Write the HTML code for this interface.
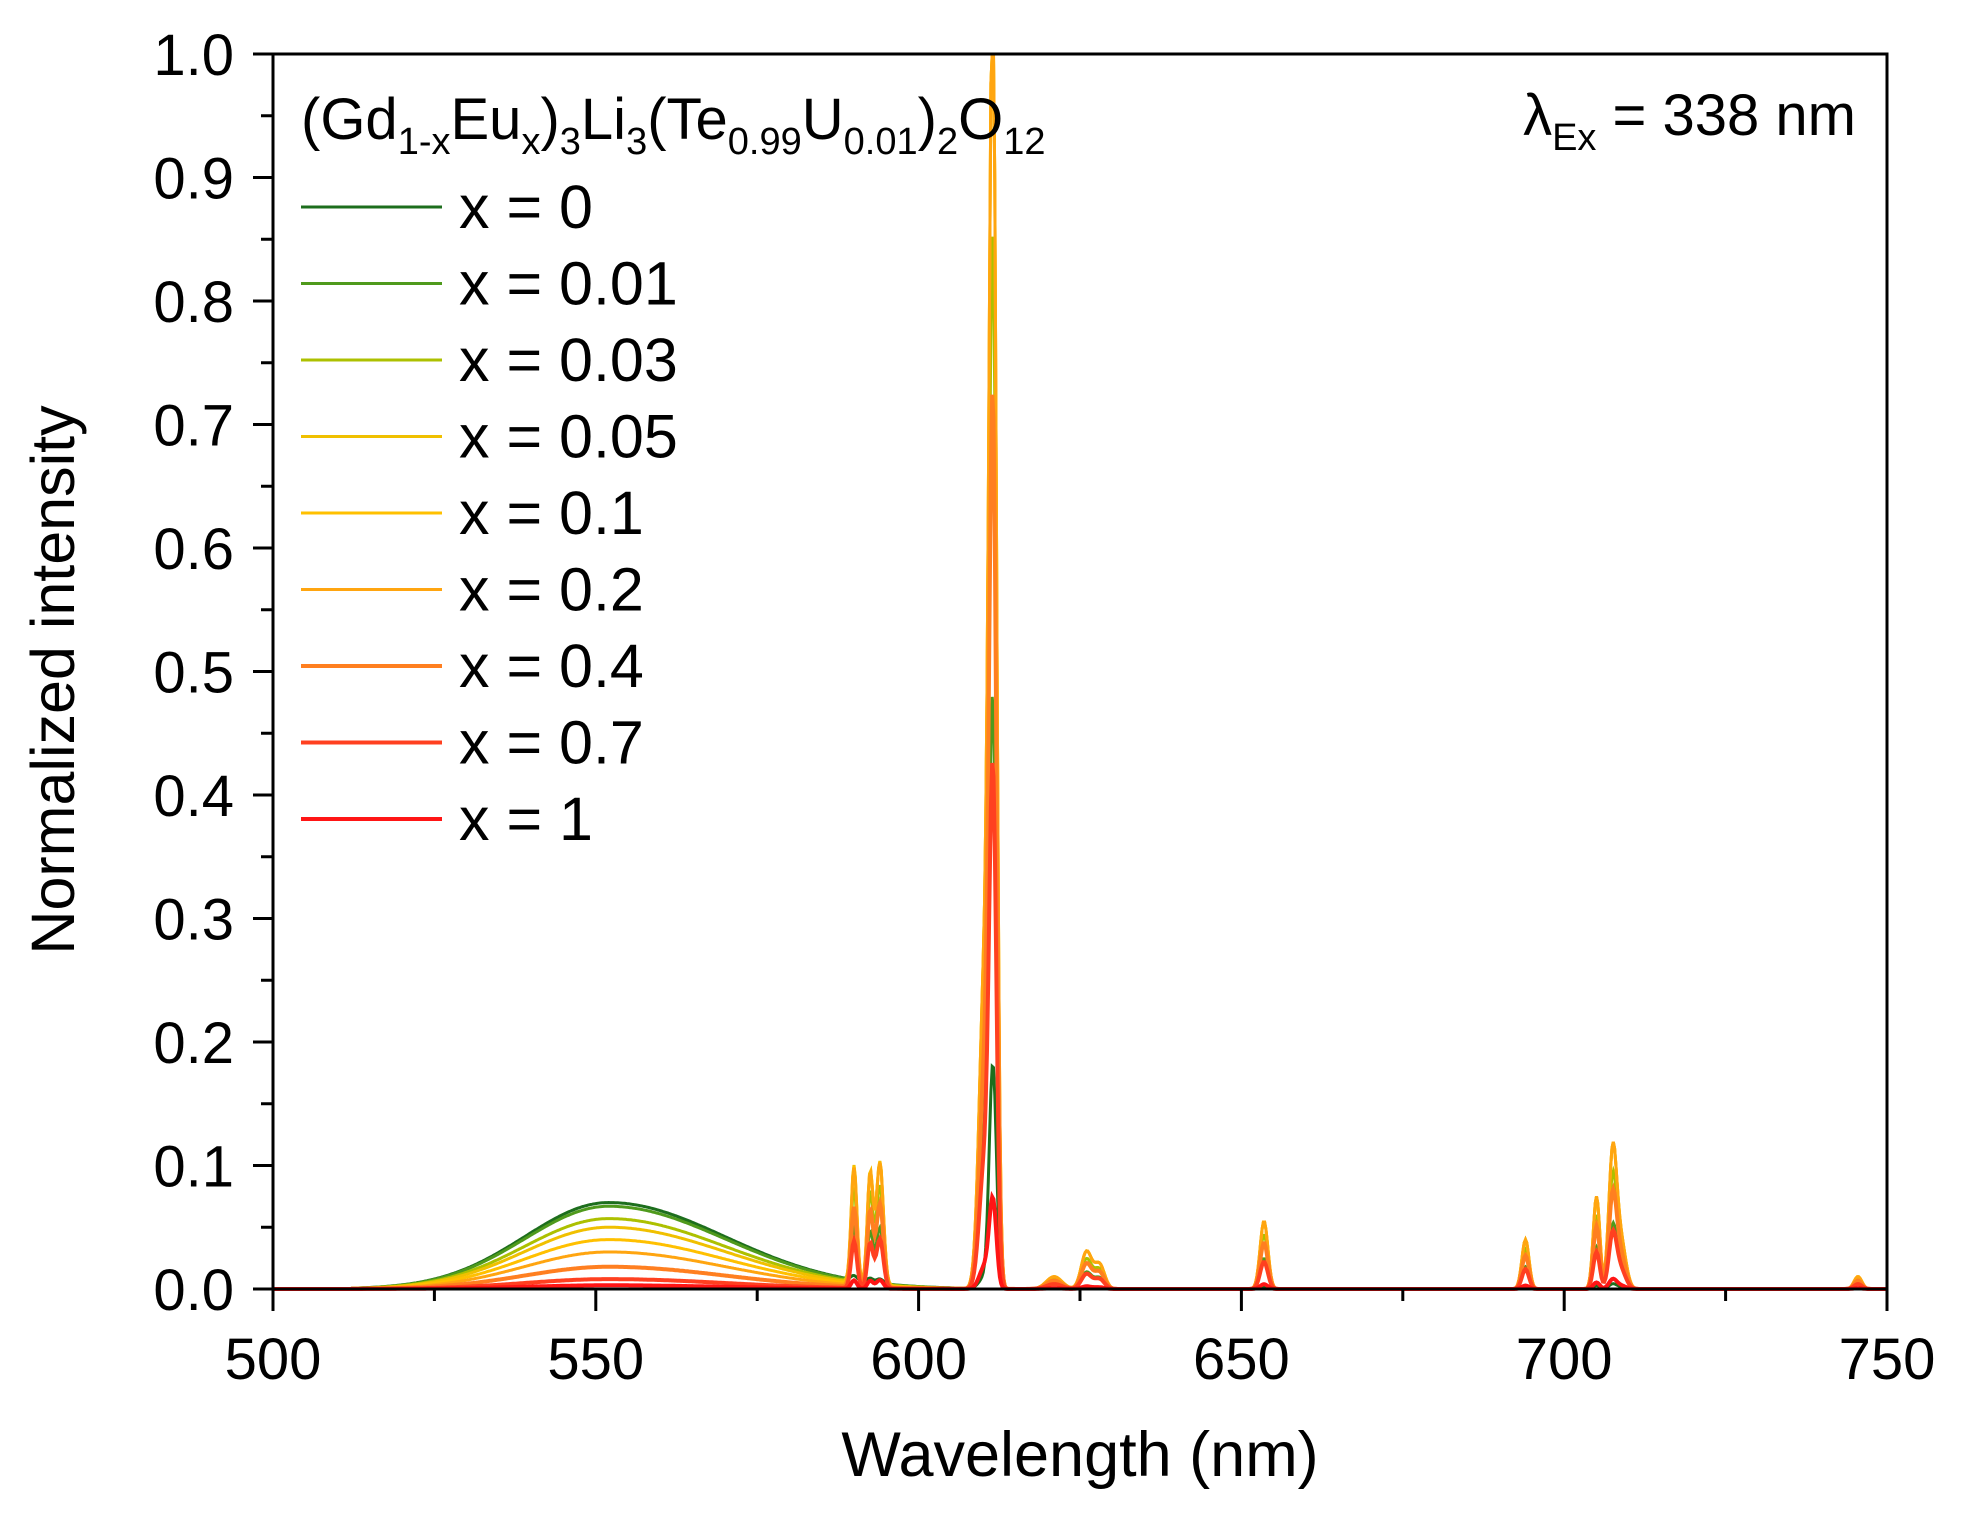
<!DOCTYPE html>
<html><head><meta charset="utf-8"><style>
body{margin:0;background:#fff;}
svg{display:block;font-family:"Liberation Sans",Arial,sans-serif;}
</style></head><body>
<svg id="s" width="1964" height="1522" viewBox="0 0 1964 1522" xmlns="http://www.w3.org/2000/svg">
<rect width="1964" height="1522" fill="#fff"/>
<g id="series"></g>
<g id="axes" stroke="#000" stroke-width="3" fill="none">
<rect x="273" y="54" width="1614" height="1235"/>
</g>
<g id="ticks" stroke="#000" stroke-width="3"></g>
<g id="labels" font-size="58" fill="#000"></g>
<text x="1080" y="1476" font-size="63" text-anchor="middle">Wavelength (nm)</text>
<text transform="translate(74,680) rotate(-90)" font-size="61" text-anchor="middle">Normalized intensity</text>
<text x="301" y="139" font-size="58">(Gd<tspan font-size="38" dy="15">1-x</tspan><tspan dy="-15">Eu</tspan><tspan font-size="38" dy="15">x</tspan><tspan dy="-15">)</tspan><tspan font-size="38" dy="15">3</tspan><tspan dy="-15">Li</tspan><tspan font-size="38" dy="15">3</tspan><tspan dy="-15">(Te</tspan><tspan font-size="38" dy="15">0.99</tspan><tspan dy="-15">U</tspan><tspan font-size="38" dy="15">0.01</tspan><tspan dy="-15">)</tspan><tspan font-size="38" dy="15">2</tspan><tspan dy="-15">O</tspan><tspan font-size="38" dy="15">12</tspan></text>
<text x="1856" y="135" font-size="58" text-anchor="end">λ<tspan font-size="38" dy="15">Ex</tspan><tspan dy="-15"> = 338 nm</tspan></text>
<g id="legend" font-size="61"></g>
</svg>
<script>
var NS="http://www.w3.org/2000/svg";
function X(w){return 273+(w-500)*6.456;}
function Y(v){return 1289-v*1235;}
function el(n,a,p,t){var e=document.createElementNS(NS,n);for(var k in a)e.setAttribute(k,a[k]);if(t!=null)e.textContent=t;p.appendChild(e);return e;}
var T=document.getElementById('ticks'),L=document.getElementById('labels');
for(var i=0;i<=10;i++){var y=Y(i/10);el('line',{x1:253,x2:273,y1:y,y2:y},T);el('text',{x:234,y:y+21,'text-anchor':'end'},L,(i/10).toFixed(1));
 if(i<10){var y2=Y(i/10+0.05);el('line',{x1:261,x2:273,y1:y2,y2:y2},T);}}
for(var w=500;w<=750;w+=25){var x=X(w);var big=w%50==0;el('line',{x1:x,x2:x,y1:1289,y2:1289+(big?22:12)},T);
 if(big)el('text',{x:x,y:1379,'text-anchor':'middle'},L,w);}
var cols=['#1d6e1d','#4f9a1c','#adc000','#f0c000','#ffc000','#ffa510','#ff7f20','#ff4020','#ff1515'];
var names=['0','0.01','0.03','0.05','0.1','0.2','0.4','0.7','1'];
var band=[0.070,0.067,0.057,0.050,0.040,0.030,0.018,0.008,0.003];
var pf=[0.18,0.45,0.8,1,1,1,0.68,0.4,0.07];
var peaks=[[590,0.095,0.45],[592.5,0.09,0.45],[594,0.10,0.55],[611.5,1.0,0.55],[610.2,0.25,0.8],[626,0.03,0.8],[628,0.02,0.8],[621,0.01,1.2],[653.5,0.055,0.6],[694,0.04,0.55],[705,0.075,0.5],[707.5,0.105,0.6],[708.7,0.04,0.8],[745.5,0.01,0.6]];
var G=document.getElementById('series');
for(var s=0;s<9;s++){var d='';
 for(var w=500;w<=750;w+=0.2){var v=0;
  if(w>512){var sg=w<552?13:18;v+=band[s]*Math.exp(-Math.pow((w-552)/sg,2)/2);}
  for(var p=0;p<peaks.length;p++){var k=peaks[p];var a=k[1]*pf[s];if(s==0&&k[0]!=611.5)a*=0.2;v+=a*Math.exp(-Math.pow((w-k[0])/k[2],2)/2);}
  if(v>1)v=1;
  d+=(d?'L':'M')+X(w).toFixed(1)+','+Y(v).toFixed(1);}
 el('path',{d:d,fill:'none',stroke:cols[s],'stroke-width':s>5?4:3},G);}
var LG=document.getElementById('legend');
for(var i=0;i<9;i++){var y=207+76.5*i;el('line',{x1:301,x2:442,y1:y,y2:y,stroke:cols[i],'stroke-width':i>5?4:3},LG);
 el('text',{x:459,y:y+21},LG,'x = '+names[i]);}
</script>
</body></html>
